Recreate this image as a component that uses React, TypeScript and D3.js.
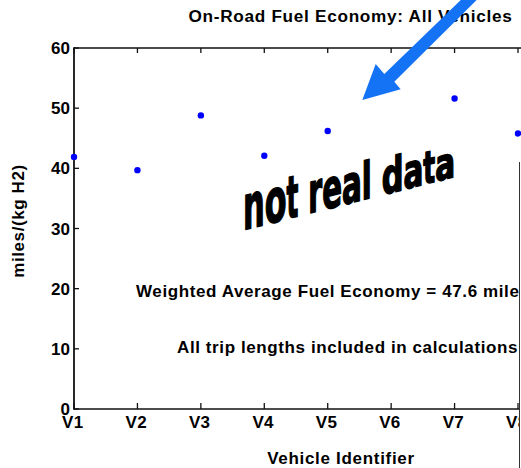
import React from "react";
import * as d3 from "d3";

const categories = ["V1", "V2", "V3", "V4", "V5", "V6", "V7", "V8"];
const fuelEconomy: (number | null)[] = [41.9, 39.7, 48.8, 42.1, 46.2, null, 51.6, 45.8];
const yTicks = [0, 10, 20, 30, 40, 50, 60];
const titleText = "On-Road Fuel Economy: All Vehicles";
const xLabel = "Vehicle Identifier";
const yLabel = "miles/(kg H2)";
const noteLines = [
  "Weighted Average Fuel Economy = 47.6 miles/(kg H2)",
  "All trip lengths included in calculations",
];
const watermark = "not real data";

const W = 521;
const H = 468;
const FONT = "'Liberation Sans', Arial, Helvetica, sans-serif";
const AXIS = "#111";

const advance: Record<string, number> = {
  n: 0.611, o: 0.611, t: 0.333, " ": 0.278, r: 0.389, e: 0.556, a: 0.556, l: 0.278, d: 0.611,
};

export default function App() {
  const x = d3.scalePoint<string>().domain(categories).range([74, 518]).padding(0);
  const y = d3.scaleLinear().domain([0, 60]).range([409, 48]);
  const left = 74;
  const right = 521;
  const top = y(60);
  const bottom = y(0);

  // watermark layout (annotation geometry)
  const wmX0 = 243;
  const wmX1 = 455;
  const chars = watermark.split("");
  const totalEm = d3.sum(chars, (c) => advance[c] ?? 0.5);
  const k = (wmX1 - wmX0) / totalEm;
  let cursor = wmX0;
  const wmChars = chars.map((c) => {
    const w = (advance[c] ?? 0.5) * k;
    const cx = cursor;
    cursor += w;
    const mid = cx + w / 2;
    const t = (mid - wmX0) / (wmX1 - wmX0);
    const xh = 33 - 11 * t;
    const fs = xh / 0.52;
    const by = 230 - 0.252 * (cx - wmX0);
    return { c, cx, w, fs, by };
  });
  const skew = (Math.atan(0.24) * 180) / Math.PI;

  const arrow = [
    [362.3, 100],
    [375.7, 64],
    [384.3, 74],
    [461 + 6, -6],
    [476.7 + 6, -6],
    [394.3, 81.7],
    [400.7, 89.3],
  ];

  return (
    <svg
      width={W}
      height={H}
      viewBox={`0 0 ${W} ${H}`}
      style={{ position: "absolute", left: 0, top: 0, background: "#fff" }}
      fontFamily={FONT}
    >
      <defs>
        <clipPath id="clipRight">
          <rect x={0} y={0} width={519} height={H} />
        </clipPath>
      </defs>
      <rect x={0} y={0} width={W} height={H} fill="#fff" />

      {/* axes box lines */}
      <line x1={left} x2={right} y1={top} y2={top} stroke={AXIS} strokeWidth={1.6} />
      <line x1={left} x2={right} y1={bottom} y2={bottom} stroke={AXIS} strokeWidth={1.6} />
      <line x1={left} x2={left} y1={top - 0.8} y2={bottom + 0.8} stroke={AXIS} strokeWidth={1.8} />

      {/* y ticks */}
      {yTicks.map((v) => (
        <g key={`yt${v}`}>
          <line x1={left} x2={left + 5} y1={y(v)} y2={y(v)} stroke={AXIS} strokeWidth={1.3} />
          <text
            x={70}
            y={y(v)}
            dy="0.36em"
            textAnchor="end"
            fontSize={17}
            fontWeight="bold"
            fill="#000"
          >
            {v}
          </text>
        </g>
      ))}

      {/* x ticks */}
      {categories.map((c) => (
        <g key={`xt${c}`}>
          <line x1={x(c)!} x2={x(c)!} y1={bottom} y2={bottom - 6} stroke={AXIS} strokeWidth={1.3} />
          <line x1={x(c)!} x2={x(c)!} y1={top} y2={top + 5} stroke={AXIS} strokeWidth={1.3} />
          <text
            x={x(c)! - 1.2}
            y={428}
            textAnchor="middle"
            fontSize={17}
            fontWeight="bold"
            fill="#000"
            letterSpacing={0.3}
          >
            {c}
          </text>
        </g>
      ))}

      {/* data points */}
      {categories.map((c, i) =>
        fuelEconomy[i] == null ? null : (
          <circle key={`p${c}`} cx={x(c)!} cy={y(fuelEconomy[i] as number)} r={3.2} fill="#0000ff" />
        )
      )}

      {/* annotations */}
      <g clipPath="url(#clipRight)" fontSize={17} fontWeight="bold" fill="#000" letterSpacing={0.6}>
        <text x={136} y={296.5}>{noteLines[0]}</text>
        <text x={177} y={352.5}>{noteLines[1]}</text>
      </g>

      {/* watermark */}
      <g
        fontFamily="'Liberation Sans Narrow', 'DejaVu Sans Condensed', 'Liberation Sans', sans-serif"
        fontWeight="bold"
        fill="#000"
        stroke="#000"
        strokeWidth={1.6}
        strokeLinejoin="round"
      >
        {wmChars.map((d, i) =>
          d.c === " " ? null : (
            <text
              key={`wm${i}`}
              transform={`translate(${d.cx},${d.by}) skewY(${-skew})`}
              x={0}
              y={0}
              fontSize={d.fs}
              textLength={d.w}
              lengthAdjust="spacingAndGlyphs"
            >
              {d.c}
            </text>
          )
        )}
      </g>

      {/* axis labels & title */}
      <text x={341} y={464} textAnchor="middle" fontSize={17} fontWeight="bold" letterSpacing={0.7} fill="#000">
        {xLabel}
      </text>
      <text
        transform="translate(24,221) rotate(-90)"
        textAnchor="middle"
        fontSize={17}
        fontWeight="bold"
        letterSpacing={0.6}
        fill="#000"
      >
        {yLabel}
      </text>
      <text x={350.5} y={22} textAnchor="middle" fontSize={17.2} fontWeight="bold" letterSpacing={0.7} fill="#000">
        {titleText}
      </text>

      {/* arrow */}
      <polygon points={arrow.map((p) => p.join(",")).join(" ")} fill="#1473f5" />

      {/* right occluding edge */}
      <rect x={520} y={162} width={2} height={H - 162} fill="#fff" />
      <line x1={519.5} x2={519.5} y1={162} y2={H} stroke="#333" strokeWidth={1} />
    </svg>
  );
}
